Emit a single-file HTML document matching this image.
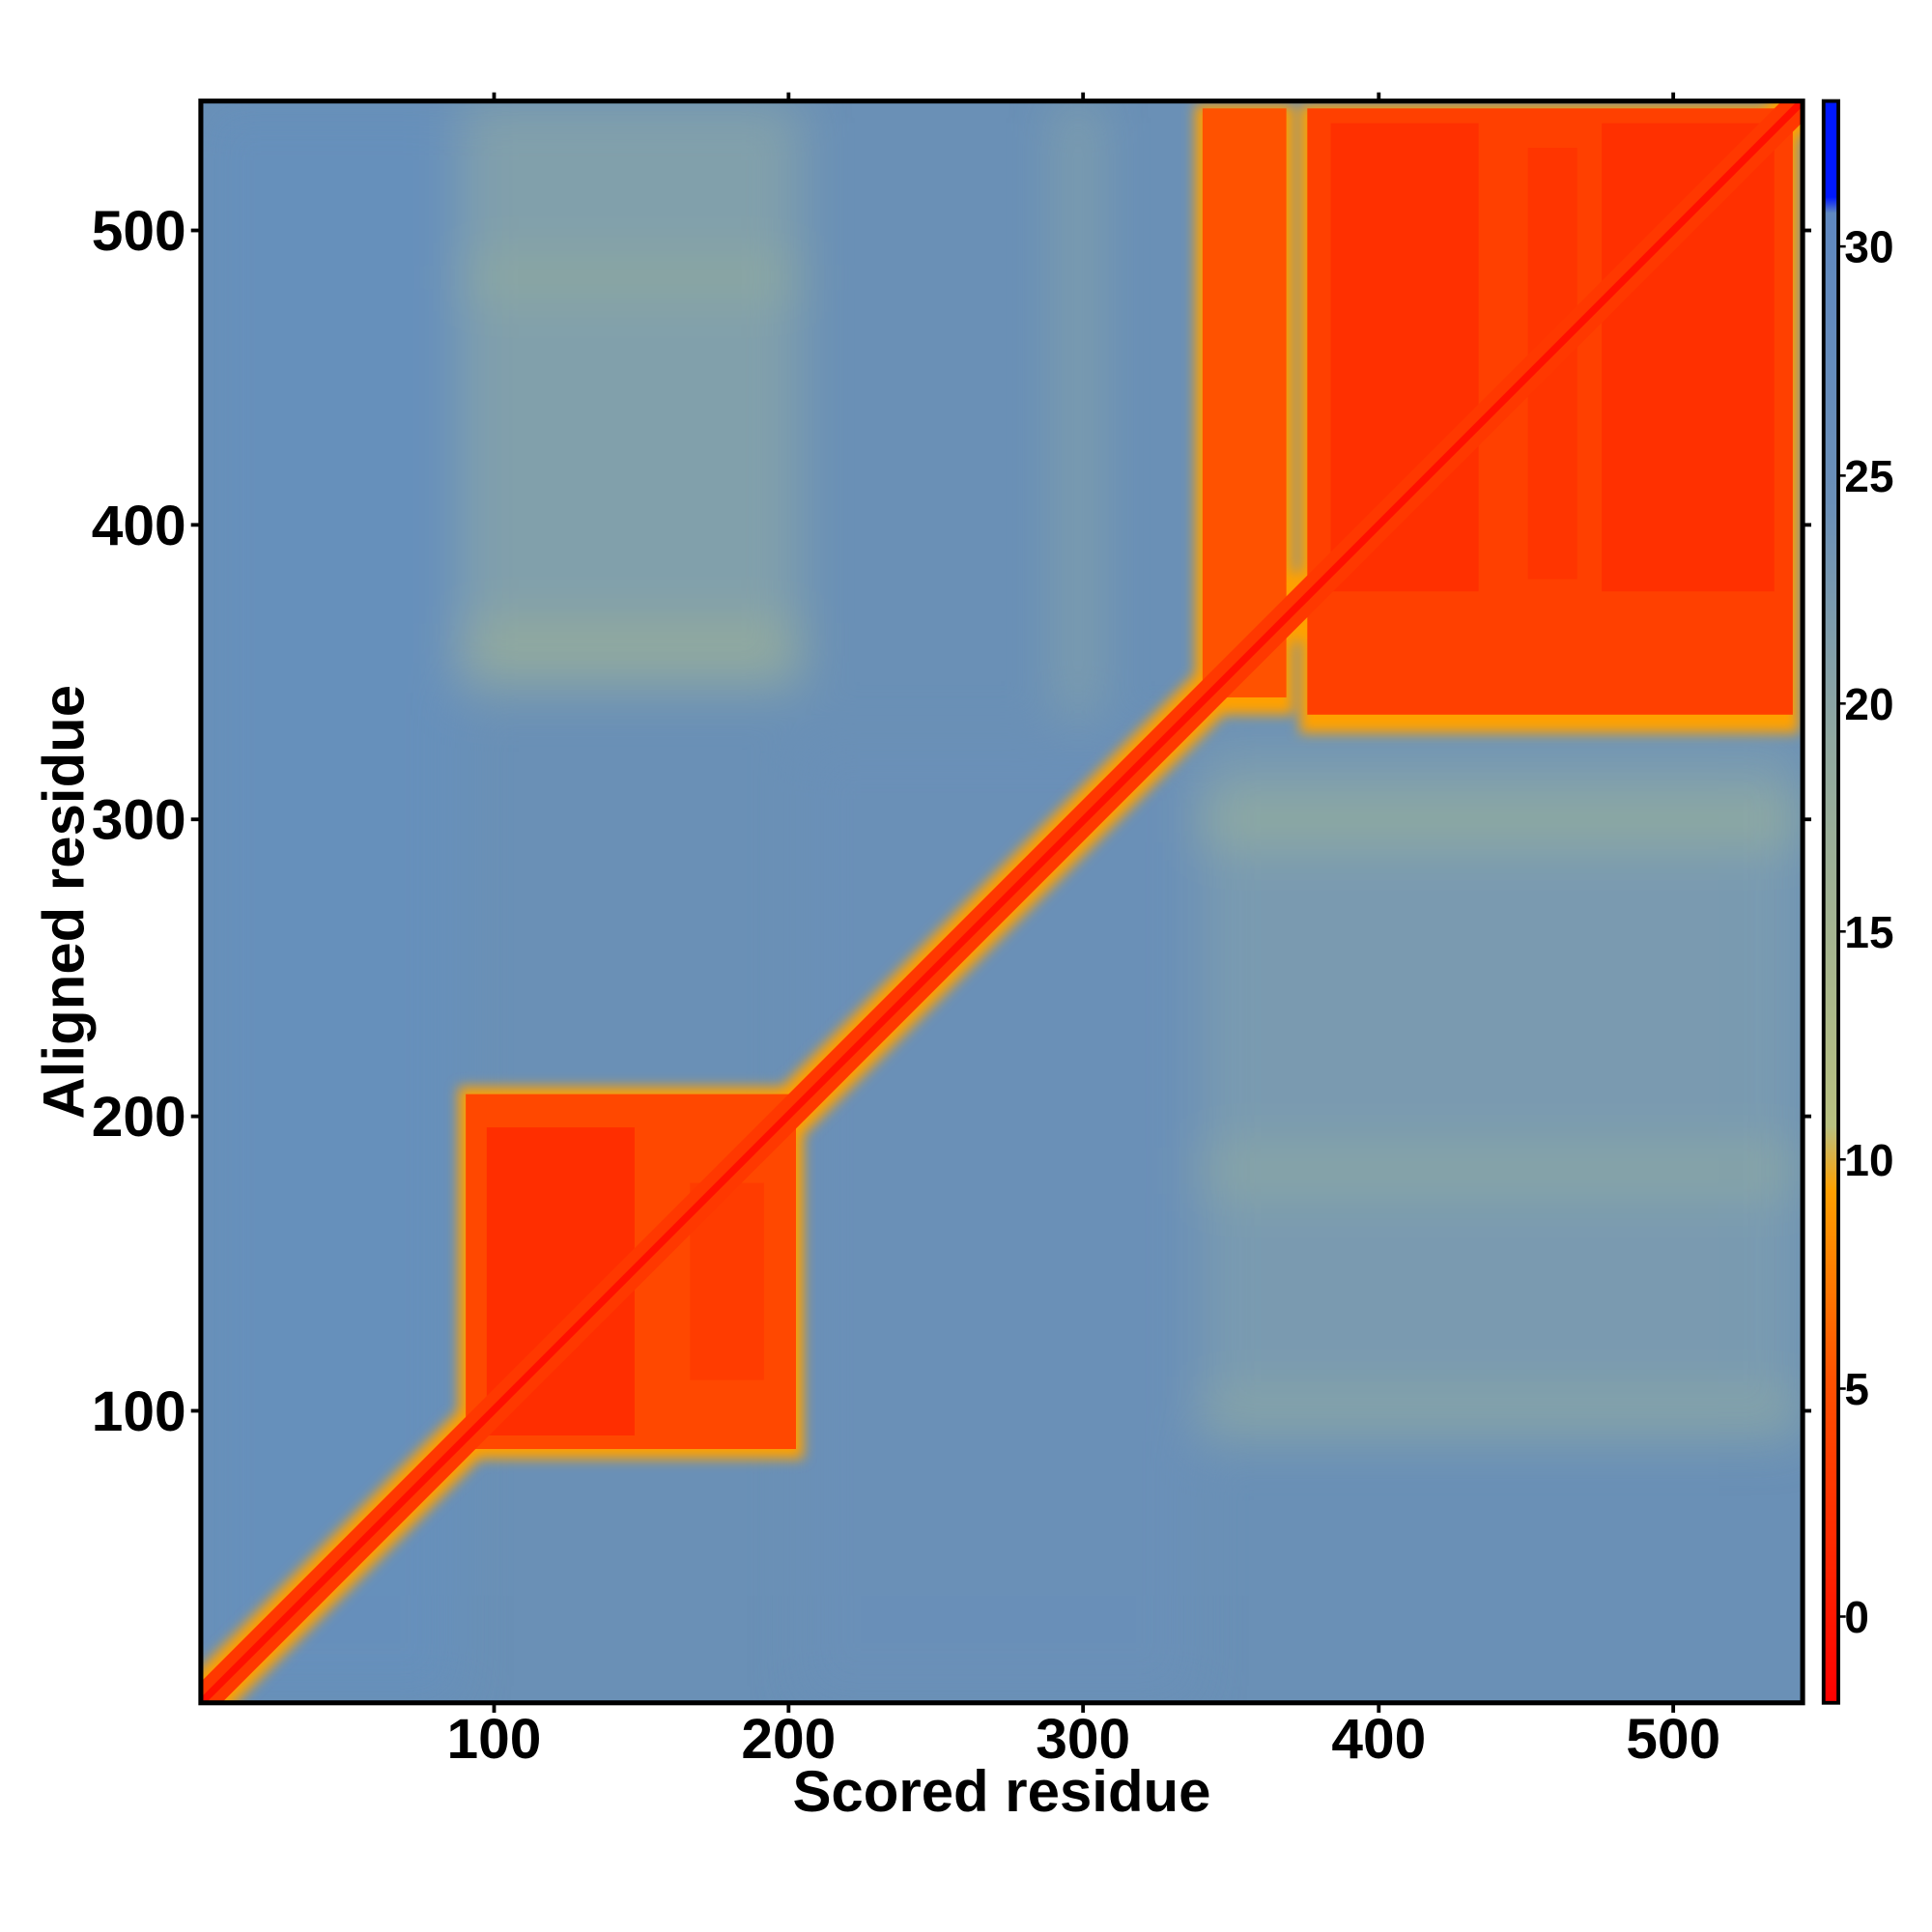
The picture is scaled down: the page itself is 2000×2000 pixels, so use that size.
<!DOCTYPE html>
<html><head><style>html,body{margin:0;padding:0;background:#fff}svg{display:block}</style></head>
<body>
<svg width="2000" height="2000" viewBox="0 0 1568 1568" xmlns="http://www.w3.org/2000/svg" font-family="Liberation Sans, sans-serif" font-weight="bold">
<defs>
<linearGradient id="cb" x1="0" y1="1" x2="0" y2="0">
<stop offset="0" stop-color="#ff0000"/>
<stop offset="0.08" stop-color="#ff2200"/>
<stop offset="0.2" stop-color="#ff5000"/>
<stop offset="0.32" stop-color="#ffa000"/>
<stop offset="0.36" stop-color="#b8c080"/>
<stop offset="0.6" stop-color="#90a8a0"/>
<stop offset="0.75" stop-color="#6a8fb8"/>
<stop offset="0.93" stop-color="#5f88c0"/>
<stop offset="0.94" stop-color="#0018ff"/>
<stop offset="1" stop-color="#0018ff"/>
</linearGradient>
<filter id="bl"><feGaussianBlur stdDeviation="5"/></filter>
<filter id="bl2"><feGaussianBlur stdDeviation="20"/></filter>
</defs>
<clipPath id="cp"><rect x="163" y="82" width="1300" height="1300"/></clipPath>
<g clip-path="url(#cp)">
<rect x="163" y="82" width="1300" height="1300" fill="#6a90b6"/>
<g filter="url(#bl2)" opacity="0.9">
<rect x="375" y="82" width="275" height="480" fill="#84a2aa"/>
<rect x="975" y="600" width="488" height="570" fill="#7c9cb0"/>
<rect x="163" y="82" width="210" height="1300" fill="#6690bc"/>
<rect x="650" y="600" width="320" height="782" fill="#6a90b8"/>
<rect x="860" y="82" width="30" height="500" fill="#84a2aa"/>
<rect x="975" y="645" width="488" height="40" fill="#94ae9e"/>
<rect x="975" y="930" width="488" height="40" fill="#8ca8a4"/>
<rect x="975" y="1130" width="488" height="30" fill="#8ca8a4"/>
<rect x="375" y="505" width="275" height="40" fill="#98ae9a"/>
<rect x="375" y="210" width="275" height="30" fill="#92ac9e"/>
</g>
<g filter="url(#bl)">
<rect x="372" y="882" width="280" height="302" fill="#ffa000"/>
<rect x="970" y="85" width="80" height="495" fill="#ffa000"/>
<rect x="1055" y="85" width="405" height="510" fill="#ffa000"/>
<line x1="163" y1="1382" x2="1463" y2="82" stroke="#ffa000" stroke-width="40"/>
</g>
<rect x="378" y="888" width="268" height="288" fill="#ff4800"/>
<rect x="395" y="915" width="120" height="250" fill="#ff2600" opacity="0.75"/>
<rect x="560" y="960" width="60" height="160" fill="#ff3000" opacity="0.5"/>
<rect x="976" y="88" width="68" height="478" fill="#ff5200"/>
<rect x="1061" y="88" width="394" height="492" fill="#ff4000"/>
<rect x="1080" y="100" width="120" height="380" fill="#ff2600" opacity="0.6"/>
<rect x="1300" y="100" width="140" height="380" fill="#ff2600" opacity="0.6"/>
<rect x="1240" y="120" width="40" height="350" fill="#ff2a00" opacity="0.5"/>
<line x1="163" y1="1382" x2="1463" y2="82" stroke="#ff3800" stroke-width="24"/>
<line x1="163" y1="1382" x2="1463" y2="82" stroke="#ff1000" stroke-width="6"/>
</g>
<rect x="163" y="82" width="1300" height="1300" fill="none" stroke="#000" stroke-width="4"/>
<g stroke="#000" stroke-width="3">
<line x1="401" y1="82" x2="401" y2="75"/><line x1="640" y1="82" x2="640" y2="75"/><line x1="879" y1="82" x2="879" y2="75"/><line x1="1119" y1="82" x2="1119" y2="75"/><line x1="1358" y1="82" x2="1358" y2="75"/>
<line x1="401" y1="1382" x2="401" y2="1390"/><line x1="640" y1="1382" x2="640" y2="1390"/><line x1="879" y1="1382" x2="879" y2="1390"/><line x1="1119" y1="1382" x2="1119" y2="1390"/><line x1="1358" y1="1382" x2="1358" y2="1390"/>
<line x1="163" y1="187" x2="155" y2="187"/><line x1="163" y1="426" x2="155" y2="426"/><line x1="163" y1="665" x2="155" y2="665"/><line x1="163" y1="906" x2="155" y2="906"/><line x1="163" y1="1145" x2="155" y2="1145"/>
<line x1="1463" y1="187" x2="1470" y2="187"/><line x1="1463" y1="426" x2="1470" y2="426"/><line x1="1463" y1="665" x2="1470" y2="665"/><line x1="1463" y1="906" x2="1470" y2="906"/><line x1="1463" y1="1145" x2="1470" y2="1145"/>
</g>
<rect x="1480" y="82" width="12" height="1300" fill="url(#cb)" stroke="#000" stroke-width="3"/>
<g stroke="#000" stroke-width="2">
<line x1="1492" y1="1312" x2="1498" y2="1312"/><line x1="1492" y1="1127" x2="1498" y2="1127"/><line x1="1492" y1="941" x2="1498" y2="941"/><line x1="1492" y1="756" x2="1498" y2="756"/><line x1="1492" y1="571" x2="1498" y2="571"/><line x1="1492" y1="386" x2="1498" y2="386"/><line x1="1492" y1="200" x2="1498" y2="200"/>
</g>
<g font-size="36" fill="#000">
<text x="1497" y="1325">0</text><text x="1497" y="1140">5</text><text x="1497" y="954">10</text><text x="1497" y="769">15</text><text x="1497" y="584">20</text><text x="1497" y="399">25</text><text x="1497" y="213">30</text>
</g>
<g font-size="46" fill="#000" text-anchor="middle">
<text x="401" y="1427">100</text><text x="640" y="1427">200</text><text x="879" y="1427">300</text><text x="1119" y="1427">400</text><text x="1358" y="1427">500</text>
</g>
<g font-size="46" fill="#000" text-anchor="end">
<text x="151" y="203">500</text><text x="151" y="442">400</text><text x="151" y="681">300</text><text x="151" y="922">200</text><text x="151" y="1161">100</text>
</g>
<text x="813" y="1470" font-size="47" text-anchor="middle">Scored residue</text>
<text transform="translate(68,732) rotate(-90)" font-size="47" text-anchor="middle">Aligned residue</text>
</svg>
</body></html>
